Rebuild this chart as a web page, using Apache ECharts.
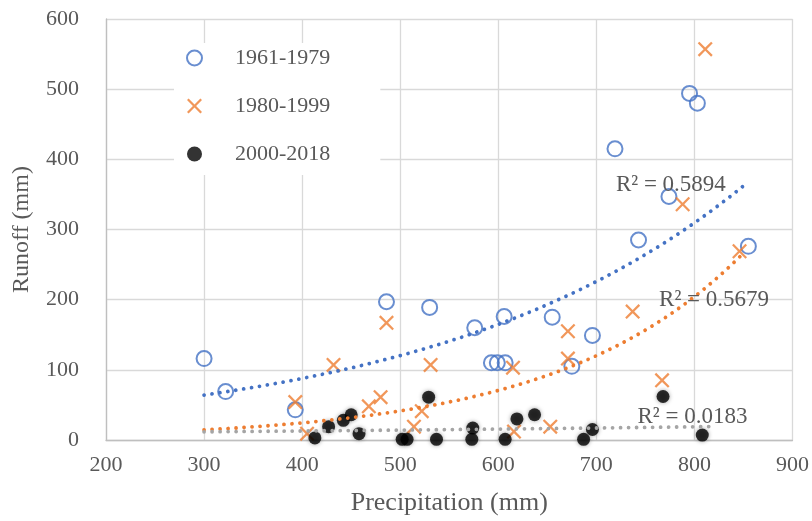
<!DOCTYPE html>
<html lang="en">
<head>
    <meta charset="UTF-8">
    <title>Runoff vs Precipitation</title>
    <script src="https://cdn.jsdelivr.net/npm/echarts@6/dist/echarts.min.js"></script>
    <style>
        html, body { margin: 0; padding: 0; background: #fff; }
        #main { width: 812px; height: 521px; }
    </style>
</head>
<body>
<div id="main"></div>
<script type="text/javascript">
    // 数据 (precipitation mm, runoff mm)
    var periods = ['1961-1979', '1980-1999', '2000-2018'];

    var p1961 = [300, 322, 393, 486, 530, 576, 593, 599, 607, 606, 655, 675, 696, 719, 743, 774, 795, 803, 855];
    var r1961 = [116, 69, 43, 197, 189, 160, 110, 110, 110, 176, 175, 105, 149, 415, 285, 347, 494, 480, 276];

    var p1980 = [393, 405, 432, 486, 468, 480, 514, 522, 531, 615, 616, 653, 671, 671, 737, 767, 788, 846, 811];
    var r1980 = [54, 9, 107, 167, 48, 61, 19, 41, 107, 103, 12, 19, 155, 116, 183, 85, 336, 269, 557];

    var p2000 = [413, 427, 442, 450, 458, 502, 507, 529, 537, 573, 574, 607, 619, 637, 687, 696, 768, 808];
    var r2000 = [3, 19, 28, 36, 9, 1, 1, 61, 1, 1, 17, 1, 30, 36, 1, 15, 62, 7];

    // exponential trend lines y = a * e^(b x)
    var trendA = [24.9, 2.92, 8.79];
    var trendB = [0.00315, 0.00531, 0.000953];
    var trendFrom = [300, 300, 300];
    var trendTo = [855, 853, 815];
    var rSquared = ['0.5894', '0.5679', '0.0183'];

    var xTicks = [200, 900, 100];
    var yTicks = [0, 600, 100];

    var colors = ['#4472C4', '#ED7D31', '#000000', '#A5A5A5'];
    var font = 'Liberation Serif';

    function pairs(xs, ys) {
        var out = [];
        for (var i = 0; i < xs.length; i++) {
            out.push([xs[i], ys[i]]);
        }
        return out;
    }

    function trendLine(k) {
        var out = [];
        for (var x = trendFrom[k]; x <= trendTo[k]; x += 5) {
            out.push([x, trendA[k] * Math.exp(trendB[k] * x)]);
        }
        return out;
    }

    var crossPath = 'path://M0,1.5L1.5,0L7,5.5L12.5,0L14,1.5L8.5,7L14,12.5L12.5,14L7,8.5L1.5,14L0,12.5L5.5,7Z';

    var labelPos = [[776, 363], [820, 200], [798, 33]];
    var trendColors = [colors[0], colors[1], colors[3]];

    var trendSeries = [];
    for (var k = 0; k < 3; k++) {
        trendSeries.push({
            name: 'trend' + k,
            type: 'line',
            data: trendLine(k),
            showSymbol: false,
            silent: true,
            z: 3,
            lineStyle: {
                color: trendColors[k],
                width: 3.8,
                type: [0.01, 8],
                cap: 'round'
            },
            markPoint: {
                symbolSize: 0,
                silent: true,
                label: {
                    show: true,
                    color: '#595959',
                    fontFamily: font,
                    fontSize: 23,
                    formatter: 'R² = ' + rSquared[k]
                },
                data: [{coord: labelPos[k]}]
            }
        });
    }

    var myChart = echarts.init(document.getElementById('main'));

    var option = {
        backgroundColor: '#fff',
        animation: false,
        grid: {left: 106, right: 13, top: 19, bottom: 76},
        legend: {
            data: periods,
            orient: 'vertical',
            left: 174,
            top: 43,
            padding: [4, 50, 10, 12],
            backgroundColor: '#fff',
            itemWidth: 15,
            itemHeight: 15,
            itemGap: 26,
            textStyle: {
                color: '#595959',
                fontFamily: font,
                fontSize: 22,
                lineHeight: 22,
                padding: [0, 0, 0, 28]
            }
        },
        xAxis: {
            type: 'value',
            min: xTicks[0],
            max: xTicks[1],
            interval: xTicks[2],
            name: 'Precipitation (mm)',
            nameLocation: 'middle',
            nameGap: 50,
            nameTextStyle: {color: '#595959', fontFamily: font, fontSize: 26},
            axisLine: {show: true, onZero: false, lineStyle: {color: '#BFBFBF', width: 1.3}},
            axisTick: {show: false},
            axisLabel: {color: '#595959', fontFamily: font, fontSize: 22, margin: 14},
            splitLine: {show: true, lineStyle: {color: '#D9D9D9', width: 1.3}}
        },
        yAxis: {
            type: 'value',
            min: yTicks[0],
            max: yTicks[1],
            interval: yTicks[2],
            name: 'Runoff (mm)',
            nameLocation: 'middle',
            nameGap: 72,
            nameTextStyle: {color: '#595959', fontFamily: font, fontSize: 24},
            axisLine: {show: true, lineStyle: {color: '#BFBFBF', width: 1.3}},
            axisTick: {show: false},
            axisLabel: {color: '#595959', fontFamily: font, fontSize: 22, margin: 27},
            splitLine: {show: true, lineStyle: {color: '#D9D9D9', width: 1.3}}
        },
        series: [
            {
                name: periods[0],
                type: 'scatter',
                data: pairs(p1961, r1961),
                symbol: 'circle',
                symbolSize: 15,
                z: 2,
                itemStyle: {color: 'rgba(255,255,255,0)', borderColor: colors[0], borderWidth: 2}
            },
            {
                name: periods[1],
                type: 'scatter',
                data: pairs(p1980, r1980),
                symbol: crossPath,
                symbolSize: 15,
                z: 2,
                itemStyle: {color: colors[1]}
            },
            {
                name: periods[2],
                type: 'scatter',
                data: pairs(p2000, r2000),
                symbol: 'circle',
                symbolSize: 13,
                z: 2,
                itemStyle: {color: colors[2], shadowBlur: 4, shadowColor: 'rgba(0,0,0,0.45)'}
            }
        ].concat(trendSeries)
    };

    myChart.setOption(option);
</script>
</body>
</html>
